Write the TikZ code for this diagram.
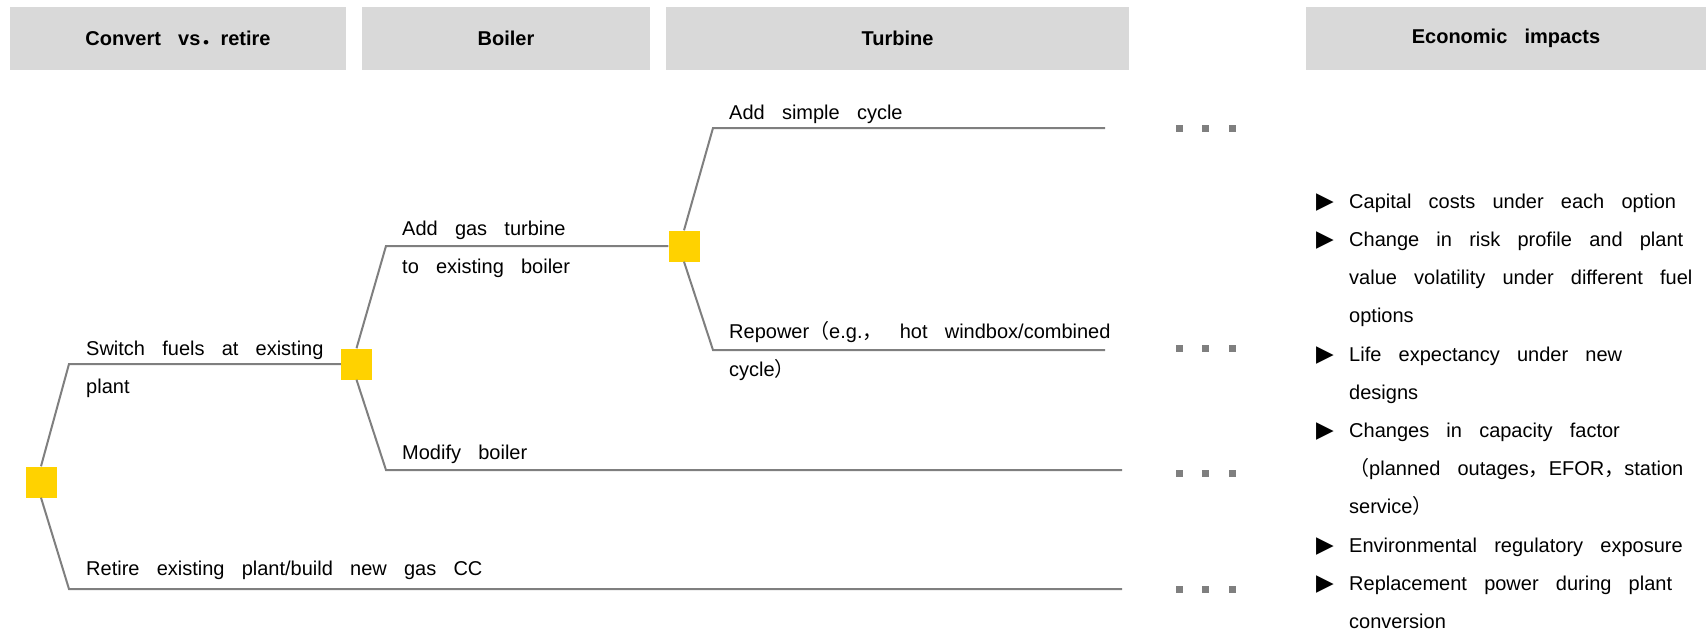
\documentclass[tikz,border=0pt]{standalone}
\usepackage{fontspec}
\setmainfont{Liberation Sans}[WordSpace=3.1]
\newfontfamily\symfont{DejaVu Sans}
\newfontfamily\cjk{Noto Sans CJK SC}
\definecolor{hdrgray}{HTML}{D9D9D9}
\definecolor{linegray}{HTML}{7F7F7F}
\definecolor{gold}{HTML}{FFD200}
\begin{document}
\begin{tikzpicture}[x=1pt,y=-1pt]
\tikzset{
 hdr/.style={fill=hdrgray, minimum height=63, inner sep=0, font=\bfseries\fontsize{20}{24}\selectfont},
 dec/.style={fill=gold, minimum width=31, minimum height=31, inner sep=0},
 br/.style={draw=linegray, line width=2},
 lbl/.style={anchor=base west, inner sep=0, align=left, font=\fontsize{20}{38.2}\selectfont},
 bul/.style={anchor=base west, inner sep=0, font=\symfont\fontsize{23}{24}\selectfont},
 dotsq/.style={fill=linegray, minimum size=7, inner sep=0},
}
\useasboundingbox (0,0) rectangle (1706,633);
% headers
\node[hdr, minimum width=336] (h1) at (178,38.5) {Convert vs{\cjk ．}retire};
\node[hdr, minimum width=288] (h2) at (506,38.5) {Boiler};
\node[hdr, minimum width=463] (h3) at (897.5,38.5) {Turbine};
\node[hdr, minimum width=400] (h4) at (1506,38.5) {Economic impacts};
% decision nodes
\node[dec] (root) at (41,482) {};
\node[dec] (n2) at (356.5,364) {};
\node[dec] (n3) at (684,246) {};
% corners and ends
\coordinate (c1) at (69,364);
\coordinate (c2) at (69,589);
\coordinate (e2) at (1122,589);
\coordinate (c3) at (386,246);
\coordinate (c4) at (386,470);
\coordinate (e4) at (1122,470);
\coordinate (c5) at (713,128);
\coordinate (e5) at (1105,128);
\coordinate (c6) at (713,350);
\coordinate (e6) at (1105,350);
% branches
\draw[br] (root.north) -- (c1) -- (n2.west);
\draw[br] (root.south) -- (c2) -- (e2);
\draw[br] (n2.north) -- (c3) -- (n3.west);
\draw[br] (n2.south) -- (c4) -- (e4);
\draw[br] (n3.north) -- (c5) -- (e5);
\draw[br] (n3.south) -- (c6) -- (e6);
% continuation dots
\foreach \y [count=\k] in {128,348,473,589}{
  \node[dotsq] (d\k a) at (1179,\y) {};
  \node[dotsq] (d\k b) at (1205,\y) {};
  \node[dotsq] (d\k c) at (1232,\y) {};
}
% branch labels (anchor = baseline of the last line)
\node[lbl] (t1) at (86,393.2) {Switch fuels at existing\\plant};
\node[lbl] (t2) at (86,575) {Retire existing plant/build new gas CC};
\node[lbl] (t3) at (402,273.2) {Add gas turbine\\to existing boiler};
\node[lbl] (t4) at (402,459) {Modify boiler};
\node[lbl] (t5) at (729,119) {Add simple cycle};
\node[lbl] (t6) at (729,376.2) {Repower{\cjk （}e.g.{\cjk ，} hot windbox/combined\\cycle{\cjk ）}};
% economic impacts
\node[bul] (b1) at (1316,208) {▶};
\node[lbl] (i1) at (1349,208) {Capital costs under each option};
\node[bul] (b2) at (1316,246.2) {▶};
\node[lbl] (i2) at (1349,322.6) {Change in risk profile and plant\\value volatility under different fuel\\options};
\node[bul] (b3) at (1316,361) {▶};
\node[lbl] (i3) at (1349,399.2) {Life expectancy under new\\designs};
\node[bul] (b4) at (1316,437.4) {▶};
\node[lbl] (i4) at (1349,513.8) {Changes in capacity factor\\{\cjk （}planned outages{\cjk ，}EFOR{\cjk ，}station\\service{\cjk ）}};
\node[bul] (b5) at (1316,552) {▶};
\node[lbl] (i5) at (1349,552) {Environmental regulatory exposure};
\node[bul] (b6) at (1316,590.2) {▶};
\node[lbl] (i6) at (1349,628.4) {Replacement power during plant\\conversion};
\end{tikzpicture}
\end{document}
